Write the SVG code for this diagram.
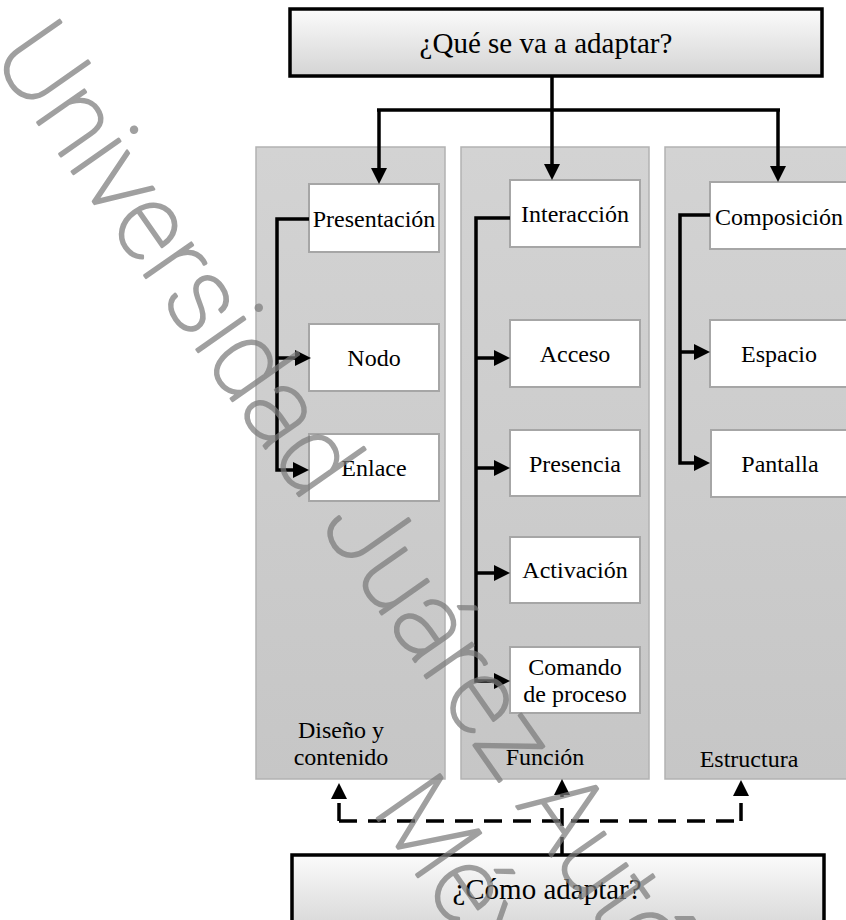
<svg xmlns="http://www.w3.org/2000/svg" width="846" height="920" viewBox="0 0 846 920">
<style>
.t{font-family:"Liberation Serif","Times New Roman",serif;font-size:24px;fill:#000;text-anchor:middle}
.tt{font-family:"Liberation Serif","Times New Roman",serif;font-size:29px;fill:#000;text-anchor:middle}
.panel{fill:url(#pg);stroke:#b2b2b2;stroke-width:1.5}
.box{fill:#fff;stroke:#a6a6a6;stroke-width:2}
.big{fill:url(#bg);stroke:#000;stroke-width:3.5}
.c{fill:none;stroke:#000;stroke-width:3.5;stroke-linejoin:miter}
.a{marker-end:url(#ah)}
.d{fill:none;stroke:#000;stroke-width:3.5;stroke-dasharray:18 11}
.wm{font-family:Roboto,"Liberation Sans",sans-serif;font-weight:100;font-size:108px;fill:#7c7c7c;stroke:#7c7c7c;stroke-width:2.6;stroke-linejoin:round;opacity:0.72}
</style>
<defs>
<linearGradient id="pg" x1="0" y1="0" x2="0" y2="1"><stop offset="0" stop-color="#d3d3d3"/><stop offset="1" stop-color="#c6c6c6"/></linearGradient>
<linearGradient id="bg" x1="0" y1="0" x2="0" y2="1"><stop offset="0" stop-color="#fbfbfb"/><stop offset="1" stop-color="#d4d4d4"/></linearGradient>
<marker id="ah" viewBox="0 0 16 16" refX="10" refY="8" markerWidth="16" markerHeight="16" markerUnits="userSpaceOnUse" orient="auto"><path d="M0,0 L16,8 L0,16 z" fill="#000"/></marker>
</defs>

<g id="panel-diseno"><rect class="panel" x="256" y="147" width="189" height="632"/><text class="t" x="341" y="738">Diseño y</text><text class="t" x="341" y="765">contenido</text></g>
<g id="panel-funcion"><rect class="panel" x="461" y="147" width="188" height="632"/><text class="t" x="545" y="765">Función</text></g>
<g id="panel-estructura"><rect class="panel" x="665" y="147" width="190" height="632"/><text class="t" x="749" y="767">Estructura</text></g>

<g id="que"><rect class="big" x="290" y="9" width="532" height="67"/><text class="tt" x="546" y="53">¿Qué se va a adaptar?</text></g>
<g id="como"><rect class="big" x="292" y="855" width="532" height="80"/><text class="tt" x="547" y="899">¿Cómo adaptar?</text></g>

<g id="presentacion"><rect class="box" x="309" y="184" width="130" height="68"/><text class="t" x="374" y="227">Presentación</text></g>
<g id="nodo"><rect class="box" x="309" y="324" width="130" height="67"/><text class="t" x="374" y="366">Nodo</text></g>
<g id="enlace"><rect class="box" x="309" y="434" width="130" height="67"/><text class="t" x="374" y="476">Enlace</text></g>

<g id="interaccion"><rect class="box" x="510" y="180" width="130" height="67"/><text class="t" x="575" y="222">Interacción</text></g>
<g id="acceso"><rect class="box" x="510" y="320" width="130" height="67"/><text class="t" x="575" y="362">Acceso</text></g>
<g id="presencia"><rect class="box" x="510" y="430" width="130" height="66"/><text class="t" x="575" y="472">Presencia</text></g>
<g id="activacion"><rect class="box" x="510" y="537" width="130" height="66"/><text class="t" x="575" y="578">Activación</text></g>
<g id="comando"><rect class="box" x="510" y="647" width="130" height="66"/><text class="t" x="575" y="675">Comando</text><text class="t" x="575" y="702">de proceso</text></g>

<g id="composicion"><rect class="box" x="710" y="182" width="140" height="67"/><text class="t" x="779" y="225">Composición</text></g>
<g id="espacio"><rect class="box" x="710" y="320" width="140" height="67"/><text class="t" x="779" y="362">Espacio</text></g>
<g id="pantalla"><rect class="box" x="711" y="430" width="140" height="67"/><text class="t" x="780" y="472">Pantalla</text></g>

<g id="connectors">
<path class="c" d="M552,77 V110 M377,110 H780"/>
<path class="c a" d="M379,110 V178"/>
<path class="c a" d="M552,110 V174"/>
<path class="c a" d="M778,110 V176"/>
<path class="c a" d="M309,219 H277 V470 H303"/>
<path class="c a" d="M277,358 H305"/>
<path class="c a" d="M510,218 H476 V681 H504"/>
<path class="c a" d="M476,358 H504"/>
<path class="c a" d="M476,468 H504"/>
<path class="c a" d="M476,573 H504"/>
<path class="c a" d="M710,215 H680 V463 H704"/>
<path class="c a" d="M680,352 H704"/>
<path class="d" d="M339,821 H741"/>
<path class="d a" d="M339,821 V789"/>
<path class="d a" d="M741,821 V786"/>
<path class="d a" d="M562,855 V785"/>
</g>

<g id="watermark" transform="translate(-9,56) rotate(55)">
<text class="wm" x="0" y="0">Universidad Juárez Autónoma de Tabasco</text>
<text class="wm" x="1003" y="121" text-anchor="middle">México</text>
</g>
</svg>
